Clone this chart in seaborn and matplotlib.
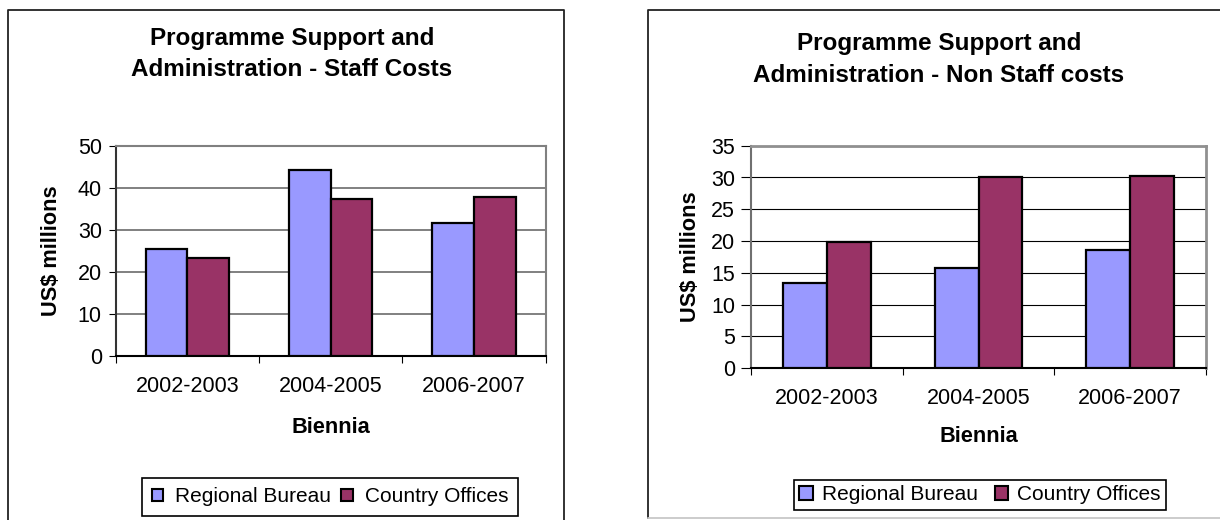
import matplotlib
matplotlib.use("Agg")
import matplotlib.pyplot as plt
import seaborn as sns
import pandas as pd
from matplotlib.patches import Patch
from matplotlib.lines import Line2D

# ---------------- data ----------------
bienniums = ["2002-2003", "2004-2005", "2006-2007"]
series_names = ["Regional Bureau", "Country Offices"]
staff_regional = [25.5, 44.1, 31.7]
staff_country = [23.2, 37.4, 37.9]
nonstaff_regional = [13.4, 15.7, 18.6]
nonstaff_country = [19.8, 30.1, 30.3]
staff_yticks = [0, 10, 20, 30, 40, 50]
nonstaff_yticks = [0, 5, 10, 15, 20, 25, 30, 35]
staff_title = "Programme Support and\nAdministration - Staff Costs"
nonstaff_title = "Programme Support and\nAdministration - Non Staff costs"
x_label = "Biennia"
y_label = "US$ millions"
colors = ["#9999FF", "#993366"]

sns.set_theme(style="white")
plt.rcParams["font.family"] = ["Liberation Sans", "DejaVu Sans"]

W, H = 1220, 520
fig = plt.figure(figsize=(W / 100, H / 100), dpi=100)
fig.patch.set_facecolor("white")


def fx(x):
    return x / W


def fy(y):
    return 1 - y / H


def make_df(regional, country):
    return pd.DataFrame({
        "Biennia": bienniums * 2,
        "Value": list(regional) + list(country),
        "Series": [s for s in series_names for _ in bienniums],
    })


def panel(rect, regional, country, yticks, cfg):
    l, t, r, b = rect
    ax = fig.add_axes([fx(l), fy(b), fx(r) - fx(l), fy(t) - fy(b)])
    df = make_df(regional, country)
    sns.barplot(data=df, x="Biennia", y="Value", hue="Series",
                order=bienniums, hue_order=series_names, palette=colors,
                width=0.58, gap=0, saturation=1, edgecolor="black",
                linewidth=1.6, errorbar=None, legend=False, ax=ax, zorder=3)
    ax.set_xlim(-0.5, 2.5)
    ax.set_ylim(yticks[0], yticks[-1])
    ax.set_yticks(yticks)
    ax.set_axisbelow(True)
    ax.yaxis.grid(True, color=cfg["grid_color"], linewidth=cfg["grid_lw"])
    ax.xaxis.grid(False)
    ax.set_facecolor("white")

    ax.tick_params(axis="y", which="major", left=True, direction="out",
                   length=cfg["ytick_len"], width=0.8, color="black",
                   pad=cfg["ypad"], labelsize=15.5, labelcolor="black")
    ax.set_xticks([0, 1, 2])
    ax.set_xticklabels(bienniums)
    ax.tick_params(axis="x", which="major", length=0, pad=cfg["xpad"],
                   labelsize=15.5, labelcolor="black")
    ax.set_xticks([-0.5, 0.5, 1.5, 2.5], minor=True)
    ax.tick_params(axis="x", which="minor", bottom=True, direction="out",
                   length=5, width=0.8, color="black")

    for side in ["top", "right"]:
        ax.spines[side].set_color(cfg["frame_color"])
        ax.spines[side].set_linewidth(cfg["frame_lw"])
    ax.spines["left"].set_color(cfg["left_color"])
    ax.spines["left"].set_linewidth(1.5)
    ax.spines["bottom"].set_color("black")
    ax.spines["bottom"].set_linewidth(1.5)

    ax.set_xlabel(x_label, fontsize=15.7, fontweight="bold", color="black")
    ax.xaxis.set_label_coords(0.5, cfg["xlab_y"])
    ax.set_ylabel(y_label, fontsize=15.7, fontweight="bold", color="black")
    ax.yaxis.set_label_coords(cfg["ylab_x"], 0.5)

    handles = [Patch(facecolor=c, edgecolor="black", linewidth=1.5) for c in colors]
    leg = ax.legend(handles, series_names, loc="center",
                    bbox_to_anchor=(fx(cfg["leg_c"][0]), fy(cfg["leg_c"][1])),
                    bbox_transform=fig.transFigure, ncol=2, frameon=True,
                    fancybox=False, shadow=False, framealpha=1,
                    edgecolor="black", fontsize=15,
                    handlelength=cfg["hl"], handleheight=cfg["hl"],
                    handletextpad=cfg["htp"], columnspacing=cfg["cs"],
                    borderpad=cfg["bp"], borderaxespad=0)
    leg.get_frame().set_linewidth(1.2)
    for txt in leg.get_texts():
        txt.set_color("black")

    fig.text(fx(cfg["title_c"][0]), fy(cfg["title_c"][1]), cfg["title"],
             ha="center", va="center", fontsize=17.5, fontweight="bold",
             linespacing=cfg["ls"], color="black")
    return ax


panel((115.7, 145.7, 545.6, 355.7), staff_regional, staff_country, staff_yticks,
      dict(grid_color="#808080", grid_lw=1.4, frame_color="#808080", frame_lw=1.5,
           left_color="#333333", ytick_len=5, ypad=5, xpad=14.5,
           xlab_y=-0.294, ylab_x=-0.126, leg_c=(330, 496.7),
           hl=0.55, htp=0.58, cs=0.48, bp=0.45,
           title_c=(292, 54), ls=1.42, title=staff_title))

panel((751, 145.7, 1206, 368.3), nonstaff_regional, nonstaff_country, nonstaff_yticks,
      dict(grid_color="black", grid_lw=0.8, frame_color="#909090", frame_lw=2.0,
           left_color="#707070", ytick_len=7, ypad=4.5, xpad=14,
           xlab_y=-0.259, ylab_x=-0.11, leg_c=(980, 495),
           hl=0.63, htp=0.45, cs=0.8, bp=0.25,
           title_c=(939, 59.5), ls=1.52, title=nonstaff_title))

# chart-area borders
def fig_line(xs, ys, color, lw):
    fig.add_artist(Line2D([fx(x) for x in xs], [fy(y) for y in ys],
                          transform=fig.transFigure, color=color, linewidth=lw))

fig_line([7.7, 7.7, 564, 564], [530, 10, 10, 530], "#222222", 1.3)
fig_line([1230, 648, 648], [10, 10, 518], "#222222", 1.3)
fig_line([648, 1230], [518, 518], "#c8c8c8", 1.3)

fig.savefig("out.png", dpi=100, facecolor="white")
